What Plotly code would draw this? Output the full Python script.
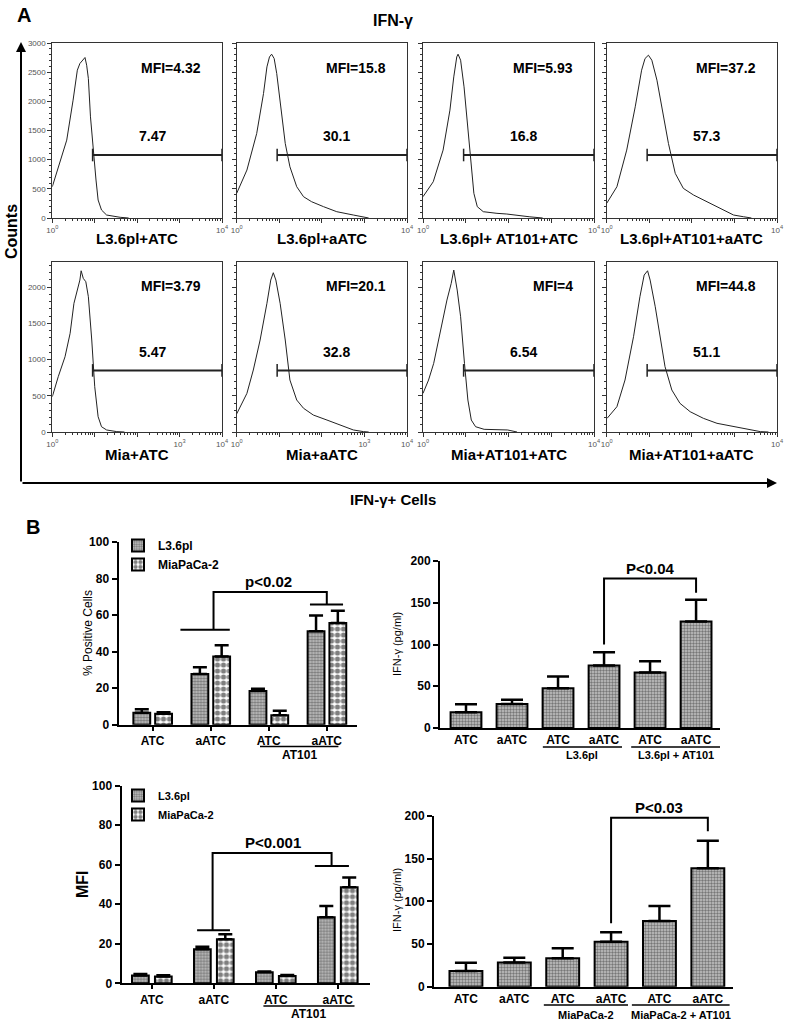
import plotly.graph_objects as go

W, H = 787, 1024
FONT = 'Arial, "Liberation Sans", sans-serif'

# ---------------- Panel A data: flow histograms (log10 decade, counts) ----------------
h_dec = [
    [0, 0.34, 0.49, 0.59, 0.65, 0.72, 0.77, 0.81, 0.85, 0.90, 0.96, 1.03, 1.08, 1.16, 1.28, 1.48, 1.6, 1.8],
    [0, 0.24, 0.47, 0.63, 0.71, 0.77, 0.82, 0.88, 0.94, 1.02, 1.14, 1.25, 1.41, 1.57, 1.76, 2.04, 2.35, 2.74, 2.98, 3.1],
    [0, 0.24, 0.47, 0.63, 0.72, 0.79, 0.82, 0.88, 0.96, 1.04, 1.12, 1.19, 1.27, 1.41, 1.73, 1.96, 2.5, 2.8],
    [0, 0.24, 0.47, 0.67, 0.82, 0.90, 0.98, 1.06, 1.18, 1.29, 1.45, 1.61, 1.80, 2.04, 2.27, 2.51, 2.74, 2.98, 3.21, 3.4],
    [0, 0.14, 0.30, 0.42, 0.51, 0.59, 0.65, 0.68, 0.73, 0.79, 0.85, 0.93, 1.00, 1.08, 1.16, 1.28, 1.52, 1.7],
    [0, 0.24, 0.39, 0.55, 0.71, 0.80, 0.86, 0.92, 1.02, 1.14, 1.25, 1.41, 1.57, 1.80, 2.12, 2.43, 2.74, 2.98, 3.1],
    [0, 0.13, 0.25, 0.41, 0.56, 0.66, 0.72, 0.80, 0.88, 0.97, 1.05, 1.13, 1.23, 1.43, 1.98, 2.2],
    [0.01, 0.24, 0.43, 0.63, 0.78, 0.88, 0.96, 1.02, 1.14, 1.25, 1.37, 1.53, 1.72, 1.96, 2.27, 2.59, 2.98, 3.37, 3.61, 3.8],
]
h_cnt = [
    [536, 1335, 2020, 2534, 2648, 2705, 2751, 2619, 2392, 1734, 1164, 651, 308, 137, 51, 22, 12, 0],
    [423, 822, 1450, 2135, 2590, 2761, 2808, 2734, 2477, 2020, 1279, 878, 536, 365, 279, 194, 108, 51, 22, 0],
    [365, 622, 1164, 1849, 2419, 2762, 2808, 2705, 2248, 1563, 993, 423, 194, 108, 80, 68, 20, 0],
    [251, 536, 1164, 1906, 2534, 2734, 2791, 2705, 2363, 1906, 1279, 765, 508, 394, 308, 223, 137, 51, 22, 0],
    [487, 763, 1038, 1361, 1775, 1982, 2096, 2224, 2119, 2073, 1866, 1269, 625, 211, 73, 28, 5, 0],
    [250, 533, 855, 1269, 1775, 2096, 2197, 2096, 1775, 1269, 717, 441, 327, 234, 165, 97, 28, 5, 0],
    [533, 717, 947, 1407, 1820, 2050, 2234, 1958, 1590, 947, 441, 165, 73, 37, 28, 0],
    [189, 349, 717, 1314, 1866, 2165, 2224, 2096, 1728, 1314, 901, 579, 396, 280, 189, 120, 73, 28, 5, 0],
]
hist_names = ["L3.6pl+ATC", "L3.6pl+aATC", "L3.6pl+ AT101+ATC", "L3.6pl+AT101+aATC",
              "Mia+ATC", "Mia+aATC", "Mia+AT101+ATC", "Mia+AT101+aATC"]
mfi_vals = ["4.32", "15.8", "5.93", "37.2", "3.79", "20.1", "4", "44.8"]
gate_pct = ["7.47", "30.1", "16.8", "57.3", "5.47", "32.8", "6.54", "51.1"]
gate_start = 0.95          # decade where the marker gate begins
gate_level = [1080, 850]   # count level of gate line, row 1 / row 2
hist_ymax = [3000, 2345]

# ---------------- Panel B data ----------------
pct_cats = ["ATC", "aATC", "ATC", "aATC"]
pct_L = [6.5, 27.8, 18.4, 51.2]
pct_L_err = [2.0, 3.6, 1.3, 8.6]
pct_M = [6.0, 37.3, 5.2, 55.7]
pct_M_err = [0.8, 6.2, 2.4, 6.7]

mfi_L = [3.9, 17.2, 5.6, 33.4]
mfi_L_err = [0.8, 1.3, 0.4, 5.7]
mfi_M = [3.5, 22.3, 3.7, 48.6]
mfi_M_err = [0.6, 2.5, 0.5, 5.0]

ifn_cats = ["ATC", "aATC", "ATC", "aATC", "ATC", "aATC"]
ifn_L = [18.8, 28.8, 47.6, 74.8, 66.4, 127.6]
ifn_L_err = [9.6, 5.0, 14.0, 16.0, 13.6, 26.0]
ifn_M = [18.4, 28.5, 33.2, 52.8, 77.0, 138.8]
ifn_M_err = [9.8, 5.5, 11.8, 11.0, 17.6, 32.2]

# ---------------- helpers ----------------
def pxx(px):
    return px / W

def pxy(py):
    return 1 - py / H

def sfx(i):
    return "" if i == 1 else str(i)

fig = go.Figure()
layout = {}
annotations = []
shapes = []

def ann(text, x, y, size=14, bold=True, color="black", **kw):
    d = dict(text=text, x=x, y=y, xref="paper", yref="paper", showarrow=False,
             xanchor="center", yanchor="middle",
             font=dict(family=FONT, size=size, color=color, weight="bold" if bold else "normal"))
    d.update(kw)
    annotations.append(d)

# ---------------- Panel A ----------------
cols = [(52.3, 222), (236.7, 407), (423, 594), (606.7, 777)]
rows = [(43, 218), (262, 432)]
minor_x = [k * 10 ** j for j in range(4) for k in range(2, 10)]

for idx in range(8):
    i = idx + 1
    s = sfx(i)
    r, c = divmod(idx, 4)
    x0, x1 = cols[c]
    y0, y1 = rows[r]
    fig.add_trace(go.Scatter(x=[10 ** d for d in h_dec[idx]], y=h_cnt[idx], mode="lines",
                             line=dict(color="#222", width=1), xaxis="x" + s, yaxis="y" + s,
                             showlegend=False, hoverinfo="skip"))
    fig.add_trace(go.Scatter(x=[10 ** gate_start, 10 ** 4], y=[gate_level[r]] * 2, mode="lines+markers",
                             line=dict(color="#222", width=2),
                             marker=dict(symbol="line-ns", size=9, line=dict(width=1.5, color="#222")),
                             cliponaxis=False, xaxis="x" + s, yaxis="y" + s,
                             showlegend=False, hoverinfo="skip"))
    ttext = ["10<sup>0</sup>", "", "", "", "10<sup>4</sup>"]
    if r == 1 and c < 2:
        ttext[3] = "10<sup>3</sup>"
    layout["xaxis" + s] = dict(domain=[pxx(x0), pxx(x1)], anchor="y" + s, type="log", range=[0, 4],
                               automargin=False,
                               tickmode="array", tickvals=[1, 10, 100, 1000, 10000], ticktext=ttext,
                               ticks="outside", ticklen=4, tickcolor="#333", tickwidth=1,
                               tickfont=dict(family=FONT, size=8, color="#555"),
                               showline=True, linecolor="#333", linewidth=1, mirror=True,
                               showgrid=False, zeroline=False,
                               minor=dict(tickmode="array", tickvals=minor_x, ticks="outside",
                                          ticklen=2, tickcolor="#333", showgrid=False))
    layout["yaxis" + s] = dict(domain=[pxy(y1), pxy(y0)], anchor="x" + s, range=[0, hist_ymax[r]],
                               automargin=False,
                               tickmode="linear", tick0=0, dtick=500,
                               ticks="outside", ticklen=4, tickcolor="#333", tickwidth=1,
                               showticklabels=(c == 0),
                               tickfont=dict(family=FONT, size=8, color="#555"),
                               showline=True, linecolor="#333", linewidth=1, mirror=True,
                               showgrid=False, zeroline=False,
                               minor=dict(tickmode="linear", tick0=0, dtick=100, ticks="outside",
                                          ticklen=2, tickcolor="#333", showgrid=False))
    # MFI text, gate percentage, sample label
    annotations.append(dict(text="MFI=" + mfi_vals[idx], x=3.55, y=hist_ymax[r] * 0.86,
                            xref="x" + s, yref="y" + s, showarrow=False, xanchor="right", yanchor="middle",
                            font=dict(family=FONT, size=14, weight="bold", color="black")))
    annotations.append(dict(text=gate_pct[idx], x=2.35, y=gate_level[r] * 1.3,
                            xref="x" + s, yref="y" + s, showarrow=False, xanchor="center", yanchor="middle",
                            font=dict(family=FONT, size=14, weight="bold", color="black")))
    ann(hist_names[idx], pxx((x0 + x1) / 2), pxy([238, 454][r]), size=15)

ann("A", pxx(24), pxy(15), size=20)
ann("IFN-γ", pxx(393), pxy(20), size=16)
ann("Counts", pxx(11), pxy(232), size=16, textangle=-90)
ann("IFN-γ+ Cells", pxx(393), pxy(499), size=15)
# axis arrows
annotations.append(dict(text="", x=pxx(777), y=pxy(483), xref="paper", yref="paper", showarrow=True,
                        ax=-756, ay=0, arrowhead=2, arrowsize=1, arrowwidth=2, arrowcolor="black"))
annotations.append(dict(text="", x=pxx(21), y=pxy(42), xref="paper", yref="paper", showarrow=True,
                        ax=0, ay=441, arrowhead=2, arrowsize=1, arrowwidth=2, arrowcolor="black"))

# ---------------- Panel B ----------------
ann("B", pxx(33), pxy(527), size=20)

PAT_L = dict(shape=".", fgcolor="#2a2a2a", bgcolor="#c4c4c4", size=3, solidity=0.5)
PAT_M = dict(shape=".", fgcolor="black", bgcolor="white", size=6, solidity=0.6)

bar_charts = {
    9: dict(dom=(118.5, 357), ydom=(542, 724.7), xr=(-0.586, 3.52), yr=(0, 100), dt=20, cats=pct_cats, xt=True),
    10: dict(dom=(440, 720), ydom=(561, 728), xr=(-0.565, 5.52), yr=(0, 200), dt=50, cats=ifn_cats, xt=False),
    11: dict(dom=(121.5, 370), ydom=(785.7, 983.3), xr=(-0.49, 3.52), yr=(0, 100), dt=20, cats=pct_cats, xt=True),
    12: dict(dom=(434, 733), ydom=(816, 986.7), xr=(-0.66, 5.52), yr=(0, 200), dt=50, cats=ifn_cats, xt=False),
}

def dx2paper(i, v):
    b = bar_charts[i]
    x0, x1 = b["dom"]
    a0, a1 = b["xr"]
    return pxx(x0 + (v - a0) / (a1 - a0) * (x1 - x0))

for i, b in bar_charts.items():
    s = sfx(i)
    layout["xaxis" + s] = dict(domain=[pxx(b["dom"][0]), pxx(b["dom"][1])], anchor="y" + s,
                               range=list(b["xr"]), tickmode="array", automargin=False,
                               tickvals=list(range(len(b["cats"]))), ticktext=b["cats"],
                               ticks="outside" if b["xt"] else "", ticklen=4, tickwidth=2, tickcolor="black",
                               tickfont=dict(family=FONT, size=12, weight="bold", color="black"),
                               showline=True, linecolor="black", linewidth=2,
                               showgrid=False, zeroline=False)
    layout["yaxis" + s] = dict(domain=[pxy(b["ydom"][1]), pxy(b["ydom"][0])], anchor="x" + s,
                               range=list(b["yr"]), tickmode="linear", tick0=0, dtick=b["dt"],
                               automargin=False,
                               ticks="outside", ticklen=5, tickwidth=2, tickcolor="black",
                               tickfont=dict(family=FONT, size=12, weight="bold", color="black"),
                               showline=True, linecolor="black", linewidth=2,
                               showgrid=False, zeroline=False)

def err(arr, w):
    return dict(type="data", array=arr, arrayminus=[0] * len(arr), symmetric=False,
                color="black", thickness=2.5, width=w)

# chart 9: % positive cells
fig.add_trace(go.Bar(x=list(range(4)), y=pct_L, width=0.29, offset=-0.33, name="L3.6pl",
                     error_y=err(pct_L_err, 7),
                     marker=dict(color="#c4c4c4", pattern=PAT_L, line=dict(color="black", width=2)),
                     xaxis="x9", yaxis="y9", legend="legend"))
fig.add_trace(go.Bar(x=list(range(4)), y=pct_M, width=0.29, offset=0.045, name="MiaPaCa-2",
                     error_y=err(pct_M_err, 7),
                     marker=dict(color="white", pattern=PAT_M, line=dict(color="black", width=2)),
                     xaxis="x9", yaxis="y9", legend="legend"))
# chart 11: MFI
fig.add_trace(go.Bar(x=list(range(4)), y=mfi_L, width=0.27, offset=-0.32, name="L3.6pl",
                     error_y=err(mfi_L_err, 7),
                     marker=dict(color="#c4c4c4", pattern=PAT_L, line=dict(color="black", width=2)),
                     xaxis="x11", yaxis="y11", legend="legend2"))
fig.add_trace(go.Bar(x=list(range(4)), y=mfi_M, width=0.27, offset=0.05, name="MiaPaCa-2",
                     error_y=err(mfi_M_err, 7),
                     marker=dict(color="white", pattern=PAT_M, line=dict(color="black", width=2)),
                     xaxis="x11", yaxis="y11", legend="legend2"))
# chart 10 & 12: IFN-γ ELISA
fig.add_trace(go.Bar(x=list(range(6)), y=ifn_L, width=0.67, error_y=err(ifn_L_err, 11),
                     marker=dict(color="#c4c4c4", pattern=PAT_L, line=dict(color="black", width=2)),
                     xaxis="x10", yaxis="y10", showlegend=False))
fig.add_trace(go.Bar(x=list(range(6)), y=ifn_M, width=0.68, error_y=err(ifn_M_err, 11),
                     marker=dict(color="#c4c4c4", pattern=PAT_L, line=dict(color="black", width=2)),
                     xaxis="x12", yaxis="y12", showlegend=False))

# significance brackets
def line_shape(i, path):
    s = sfx(i)
    shapes.append(dict(type="path", path=path, xref="x" + s, yref="y" + s,
                       line=dict(color="black", width=2)))

line_shape(9, "M0.48,52 H1.33 M1.05,52 V72.7 H3.0 V65.8 M2.71,65.8 H3.28")
annotations.append(dict(text="p<0.02", x=2.0, y=72.7, yanchor="bottom", xref="x9", yref="y9",
                        showarrow=False, font=dict(family=FONT, size=15, weight="bold")))
line_shape(11, "M0.73,26.9 H1.26 M0.98,26.9 V66 H2.9 V59.3 M2.63,59.3 H3.18")
annotations.append(dict(text="P<0.001", x=1.95, y=66, yanchor="bottom", xref="x11", yref="y11",
                        showarrow=False, font=dict(family=FONT, size=15, weight="bold")))
line_shape(10, "M3.0,100 V179 H5.0 V162")
annotations.append(dict(text="P<0.04", x=4.0, y=179, yanchor="bottom", xref="x10", yref="y10",
                        showarrow=False, font=dict(family=FONT, size=15, weight="bold")))
line_shape(12, "M3.0,74.3 V198 H5.0 V182")
annotations.append(dict(text="P<0.03", x=4.0, y=198, yanchor="bottom", xref="x12", yref="y12",
                        showarrow=False, font=dict(family=FONT, size=15, weight="bold")))

# group underlines below category labels
groups = [
    (9, 1.85, 3.2, 746.5, 755, "AT101"),
    (11, 1.8, 3.27, 1006, 1014, "AT101"),
    (10, 1.67, 3.39, 747, 755, "L3.6pl"),
    (10, 3.59, 5.52, 747, 755, "L3.6pl + AT101"),
    (12, 1.61, 3.35, 1005, 1015, "MiaPaCa-2"),
    (12, 3.43, 5.45, 1005, 1015, "MiaPaCa-2 + AT101"),
]
for i, a, bb, yl, yt, txt in groups:
    xa, xb = dx2paper(i, a), dx2paper(i, bb)
    shapes.append(dict(type="line", xref="paper", yref="paper", x0=xa, x1=xb, y0=pxy(yl), y1=pxy(yl),
                       line=dict(color="black", width=1.5)))
    ann(txt, (xa + xb) / 2, pxy(yt), size=12 if i in (9, 11) else 11)

# y-axis titles
ann("% Positive Cells", pxx(88), pxy(633), size=12, bold=False, textangle=-90)
ann("IFN-γ (pg/ml)", pxx(397), pxy(644), size=11, bold=False, textangle=-90)
ann("MFI", pxx(82), pxy(884), size=16, textangle=-90)
ann("IFN-γ (pg/ml)", pxx(397), pxy(900), size=11, bold=False, textangle=-90)

layout["legend"] = dict(x=pxx(118), y=pxy(531), xanchor="left", yanchor="top",
                        bgcolor="rgba(0,0,0,0)", tracegroupgap=0,
                        font=dict(family=FONT, size=12, weight="bold", color="black"))
layout["legend2"] = dict(x=pxx(118), y=pxy(781), xanchor="left", yanchor="top",
                         bgcolor="rgba(0,0,0,0)", tracegroupgap=0,
                         font=dict(family=FONT, size=11, weight="bold", color="black"))

fig.update_layout(**layout)
fig.update_layout(width=W, height=H, margin=dict(l=0, r=0, t=0, b=0, autoexpand=False),
                  plot_bgcolor="white", paper_bgcolor="white", barmode="overlay",
                  annotations=annotations, shapes=shapes,
                  font=dict(family=FONT, color="black"))
fig.write_html("out.html", config={"displayModeBar": False},
               post_script="document.body.style.margin='0';document.body.style.padding='0';")
